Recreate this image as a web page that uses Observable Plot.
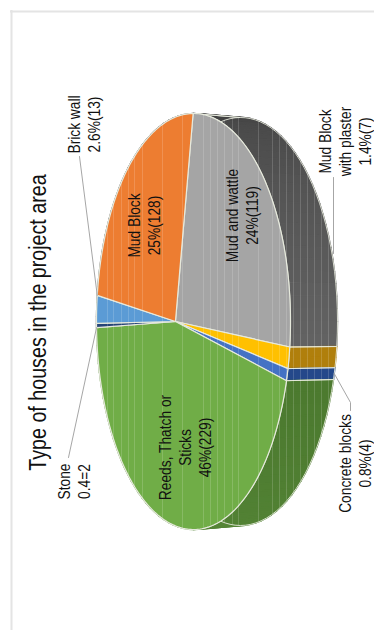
<!DOCTYPE html>
<html>
<head>
<meta charset="utf-8">
<style>
  html, body { margin: 0; padding: 0; background: #fff; }
  svg { display: block; }
</style>
<script src="https://cdn.jsdelivr.net/npm/d3@7"></script>
<script src="https://cdn.jsdelivr.net/npm/@observablehq/plot@0.6"></script>
</head>
<body>
<div id="chart"></div>
<script>
// Survey counts by house type, clockwise from the mud-and-wattle slice.
const categories = ["Mud and wattle", "Mud Block\nwith plaster", "Concrete blocks", "Reeds, Thatch or\nSticks", "Stone", "Brick wall", "Mud Block"];
const counts = [119, 7, 4, 229, 2, 13, 128];
const shares = ["24%(119)", "1.4%(7)", "0.8%(4)", "46%(229)", "0.4=2", "2.6%(13)", "25%(128)"];
const topColors = ["#A5A5A5", "#FFC000", "#4472C4", "#70AD47", "#264478", "#5B9BD5", "#ED7D31"];
const sideFrom = ["#434343", "#b07f0c", "#24488a", "#4c7a2f", "#434343", "#434343", "#434343"];
const sideTo = ["#626262", "#b07f0c", "#24488a", "#609340", "#434343", "#434343", "#434343"];
const bandLines = [107, 113, 121, 128, 134, 142, 162, 182, 203, 210, 217, 224, 232, 238, 258, 272, 279, 286, 293, 300, 307, 314, 321, 328];
const titleText = "Type of houses in the project area";

// Tilted-disc geometry: a circle seen in perspective, turned a quarter turn.
const cx = 193, cy = 321, rx = 97, ryTop = 208, ryBottom = 204, depth = 47;
const k = -0.186, squeeze = Math.sqrt(1 - k * k);
const startAngle = -79.5;

function rim(deg, bottom = false) {
  const t = deg * Math.PI / 180, u = Math.cos(t), v = Math.sin(t), d = 1 + k * u;
  return {
    x: cx + rx * (u + k) / d + (bottom ? depth : 0),
    y: cy + (bottom ? ryBottom : ryTop) * squeeze * v / d
  };
}
const pivot = {x: cx + rx * k, y: cy};

const total = d3.sum(counts);
let running = startAngle;
const slices = counts.map((c, i) => {
  const a0 = running, a1 = running + c / total * 360;
  running = a1;
  return {i, a0, a1, mid: (a0 + a1) / 2};
});
const arcAngles = (a0, a1, step) => {
  const n = Math.max(1, Math.ceil((a1 - a0) / step));
  return d3.range(n + 1).map((j) => a0 + (a1 - a0) * j / n);
};

// Wall of the disc: short quads so the shade can drift along each slice.
const wallQuads = [];
const wallOutlines = slices.map((s) => {
  const angles = arcAngles(s.a0, s.a1, 3);
  angles.slice(0, -1).forEach((a, j) => {
    const b = angles[j + 1];
    const fill = d3.interpolateRgb(sideFrom[s.i], sideTo[s.i])(j / Math.max(1, angles.length - 2));
    const id = `${s.i}-${j}`;
    [rim(a), rim(b), rim(b, true), rim(a, true), rim(a)].forEach((p) => wallQuads.push({...p, id, fill}));
  });
  const outline = [...angles.map((a) => rim(a)), ...angles.slice().reverse().map((a) => rim(a, true))];
  outline.push(outline[0]);
  return outline;
});

const topFaces = slices.map((s) => {
  const pts = [pivot, ...arcAngles(s.a0, s.a1, 1).map((a) => rim(a)), pivot];
  return pts;
});

// Label blocks: centre of the rotated text.
const labelSpots = [
  {x: 241, y: 215}, {x: 344, y: 141}, {x: 354, y: 463}, {x: 184, y: 447},
  {x: 73, y: 481}, {x: 83, y: 124}, {x: 143, y: 225}
];
const labels = categories.map((name, i) => ({...labelSpots[i], text: `${name}\n${shares[i]}`}));

// Leader lines run from a label to its slice on the rim.
const concrete = slices[2], stone = slices[4], brick = slices[5];
const leaders = [
  [{x: 79, y: 156}, rim(brick.a1)],
  [{x: 68, y: 457}, rim(stone.a0)],
  [{x: 333, y: 177}, {x: 333, y: 253}],
  [{x: 350, y: 410}, {x: 350, y: 402}, rim(concrete.mid, true)]
];

const bandRows = bandLines.map((x) => {
  const half = (c, ry) => {
    const r = (x - c) / rx;
    return Math.abs(r) < 1 ? ry * Math.sqrt(1 - r * r) : 0;
  };
  const h = Math.max(half(cx, ryTop), half(cx + depth, ryBottom));
  return {x, y1: cy - h, y2: cy + h};
});

const outlineColor = "#e6e9dc";

// Condense rotated text along its run; only Liberation Sans at full width is at hand.
const condensed = (factor) => (index, scales, values, dimensions, context, next) => {
  const g = next(index, scales, values, dimensions, context);
  g.querySelectorAll("text").forEach((el) => {
    el.setAttribute("transform", `${el.getAttribute("transform") || ""} scale(${factor},1)`);
  });
  return g;
};

const chart = Plot.plot({
  width: 374,
  height: 630,
  margin: 0,
  x: {domain: [0, 374], range: [0, 374], axis: null},
  y: {domain: [0, 630], range: [0, 630], axis: null},
  style: {background: "#fff", fontFamily: "'Liberation Sans', Arial, sans-serif"},
  marks: [
    Plot.ruleX([11], {y1: 10, y2: 630, stroke: "#e4e4e4", strokeWidth: 2}),
    Plot.ruleY([11], {x1: 10, x2: 374, stroke: "#e4e4e4", strokeWidth: 2}),
    Plot.line(wallQuads, {x: "x", y: "y", z: "id", fill: (d) => d.fill, stroke: (d) => d.fill, strokeWidth: 1.4, strokeLinejoin: "round"}),
    ...wallOutlines.map((pts) => Plot.line(pts, {x: "x", y: "y", stroke: outlineColor, strokeWidth: 1, strokeOpacity: 0.9})),
    ...topFaces.map((pts, i) => Plot.line(pts, {x: "x", y: "y", fill: topColors[i], stroke: outlineColor, strokeWidth: 1.2, strokeLinejoin: "round"})),
    Plot.ruleX(bandRows, {x: "x", y1: "y1", y2: "y2", stroke: "#fff", strokeOpacity: 0.16, strokeWidth: 1}),
    ...leaders.map((pts) => Plot.line(pts, {x: "x", y: "y", stroke: "#a6a6a6", strokeWidth: 1})),
    Plot.text(labels, {
      x: "x", y: "y", text: "text", rotate: -90, fontSize: 17, lineHeight: 1.18,
      lineAnchor: "middle", textAnchor: "middle", fill: "#111", render: condensed(0.81)
    }),
    Plot.text([titleText], {
      x: () => 38, y: () => 322, text: (d) => d, rotate: -90, fontSize: 24,
      lineAnchor: "middle", textAnchor: "middle", fill: "#111", render: condensed(0.82)
    })
  ]
});
document.getElementById("chart").append(chart);
</script>
</body>
</html>
